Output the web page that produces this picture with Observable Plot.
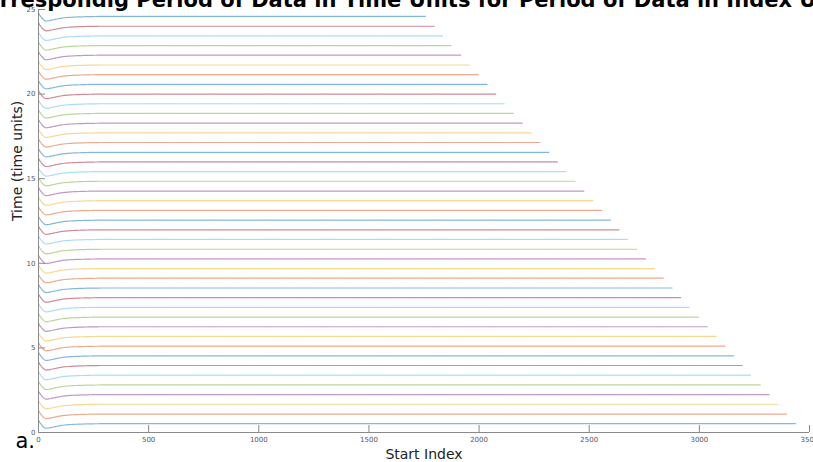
<!DOCTYPE html>
<html>
<head>
<meta charset="utf-8">
<script src="https://cdn.jsdelivr.net/npm/d3@7"></script>
<script src="https://cdn.jsdelivr.net/npm/@observablehq/plot@0.6"></script>
<style>
  html, body { margin: 0; padding: 0; background: #fff; overflow: hidden; }
  #chart svg { overflow: visible; display: block; }
</style>
</head>
<body>
<div id="chart"></div>
<script>
// ---- data ----
const title = "Correspondig Period of Data in Time Units for Period of Data in Index Units";
const xLabel = "Start Index";
const yLabel = "Time (time units)";
const panelLabel = "a.";

const xTicks = [0, 500, 1000, 1500, 2000, 2500, 3000, 3500];
const yTicks = [0, 5, 10, 15, 20, 25];

// steady time level of each curve (bottom to top)
const levels = [
  0.52, 1.09, 1.67, 2.24, 2.81, 3.39, 3.96, 4.53, 5.10, 5.68,
  6.25, 6.82, 7.40, 7.97, 8.54, 9.12, 9.69, 10.26, 10.83, 11.41,
  11.98, 12.55, 13.13, 13.70, 14.27, 14.85, 15.42, 15.99, 16.56, 17.14,
  17.71, 18.28, 18.86, 19.43, 20.00, 20.58, 21.15, 21.72, 22.30, 22.87,
  23.44, 24.01, 24.59
];
// last start index of each curve (bottom to top)
const ends = [
  3436, 3396, 3356, 3316, 3276, 3236, 3196, 3156, 3116, 3076,
  3036, 2996, 2956, 2916, 2876, 2836, 2796, 2756, 2716, 2676,
  2636, 2596, 2556, 2516, 2476, 2436, 2396, 2356, 2316, 2276,
  2236, 2196, 2156, 2116, 2076, 2036, 1996, 1956, 1916, 1876,
  1836, 1796, 1756
];
// early transient (start indices and offset from the steady level)
const dipX      = [0, 10, 35, 70, 110, 200, 300];
const dipOffset = [0.20, 0.00, -0.27, -0.19, -0.09, -0.02, 0.00];

// MATLAB default colour order
const palette = ["#0072BD", "#D95319", "#EDB120", "#7E2F8E", "#77AC30", "#4DBEEE", "#A2142F"];

// ---- build table ----
const rows = [];
levels.forEach((lv, i) => {
  dipX.forEach((x, k) => rows.push({series: i, x, y: lv + dipOffset[k], color: palette[i % palette.length]}));
  rows.push({series: i, x: ends[i], y: lv, color: palette[i % palette.length]});
});

const W = 813, H = 462;
const mL = 38, mR = 4, mT = 9, mB = 30;
const frameW = W - mL - mR, frameH = H - mT - mB;
const axisColor = "#8a8a8a";

const chart = Plot.plot({
  width: W,
  height: H,
  marginLeft: mL,
  marginRight: mR,
  marginTop: mT,
  marginBottom: mB,
  style: {fontFamily: "DejaVu Sans", background: "#fff", color: "#222"},
  x: {domain: [0, 3500], axis: null},
  y: {domain: [0, 25], axis: null},
  color: {type: "identity"},
  marks: [
    Plot.line(rows, {x: "x", y: "y", z: "series", stroke: "color", strokeWidth: 1.2, strokeOpacity: 0.5, strokeDasharray: "2,0.8", curve: "monotone-x"}),
    // axis lines
    Plot.ruleX([0], {stroke: axisColor, strokeWidth: 1}),
    Plot.ruleY([0], {stroke: axisColor, strokeWidth: 1}),
    // inward ticks
    Plot.tickX(xTicks, {x: d => d, stroke: axisColor, insetTop: frameH - 7}),
    Plot.tickY(yTicks, {y: d => d, stroke: axisColor, insetRight: frameW - 7}),
    // tick labels
    Plot.axisX({ticks: xTicks, tickFormat: d => String(d), tickSize: 0, tickPadding: 5, fontSize: 7, color: "#555", label: null}),
    Plot.axisY({ticks: yTicks, tickFormat: d => String(d), tickSize: 0, tickPadding: 3, fontSize: 7, color: "#555", label: null}),
    // axis titles
    Plot.text([xLabel], {frameAnchor: "bottom", dy: 22.5, lineAnchor: "middle", fontSize: 14, fill: "#222"}),
    Plot.text([yLabel], {frameAnchor: "left", dx: -21, rotate: -90, lineAnchor: "middle", fontSize: 14, fill: "#222"}),
    // chart title
    Plot.text([title], {frameAnchor: "top", dx: -8.5, dy: -9, lineAnchor: "middle", fontSize: 21, fontWeight: "bold", fill: "#000"}),
    // panel label
    Plot.text([panelLabel], {frameAnchor: "bottom-left", dx: -23, dy: 9, textAnchor: "start", lineAnchor: "middle", fontSize: 21, fill: "#000"})
  ]
});
document.getElementById("chart").appendChild(chart);
</script>
</body>
</html>
